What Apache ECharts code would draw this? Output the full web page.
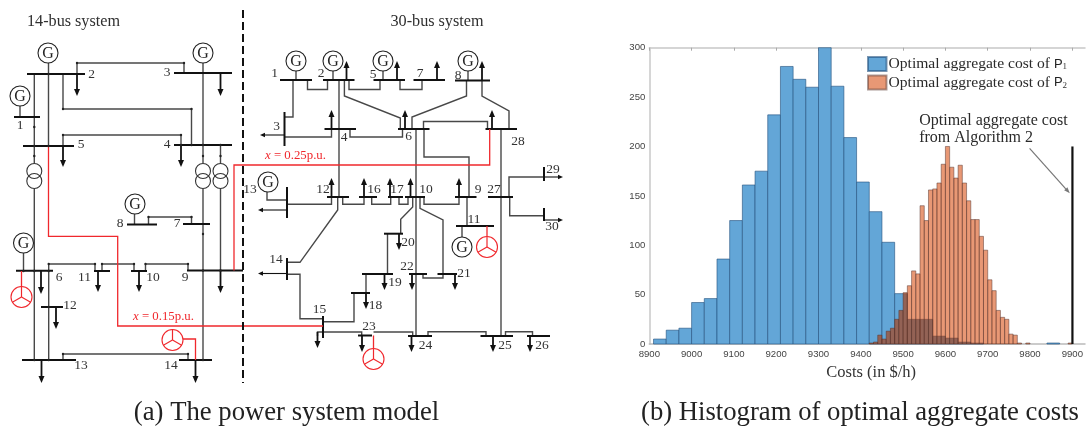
<!DOCTYPE html>
<html><head><meta charset="utf-8">
<style>html,body{margin:0;padding:0;background:#fff}#c{width:1086px;height:428px;filter:blur(0.35px)}</style>
<script src="https://cdn.jsdelivr.net/npm/echarts@6/dist/echarts.min.js"></script>
</head><body><div id="c"></div>
<script>
// ---------- histogram data ----------
const xTicks = [8900,9000,9100,9200,9300,9400,9500,9600,9700,9800,9900];
const yTicks = [0,50,100,150,200,250,300];
const p1Starts = [8910,8940,8970,9000,9030,9060,9090,9120,9150,9180,9210,9240,9270,9300,9330,9360,9390,9420,9450,9480,9510,9540,9570,9600,9630,9660,9840];
const p1Counts = [5,14,16,42,46,86,125,161,175,232,281,268,260,300,261,209,164,134,103,51,25,25,8,6,2,1,1];
const p2Starts = [9420,9430,9440,9450,9460,9470,9480,9490,9500,9510,9520,9530,9540,9550,9560,9570,9580,9590,9600,9610,9620,9630,9640,9650,9660,9670,9680,9690,9700,9710,9720,9730,9740,9750,9760,9770,9790,9890];
const p2Counts = [1,2,9,5,13,16,25,34,52,59,74,71,140,125,156,157,163,182,200,179,168,181,163,145,126,126,109,95,65,54,34,27,25,10,9,1,1,1];
const p1Width = 30, p2Width = 10;
const algorithmCost = [9900, 200];

// ---------- schematic (diagram units) ----------
const busBars = [
 [[27,74],[85,74]],[[174,73],[232,73]],[[14,117],[40,117]],[[23,146],[74,146]],[[174,145],[232,145]],
 [[183,224],[210,224]],[[127,224.5],[157,224.5]],[[16,270.7],[53,270.7]],[[94,271],[110,271]],[[131,271],[147,271]],
 [[187,270.5],[243,270.5]],[[41,307],[63,307]],[[22,360],[76,360]],[[179,360],[212,360]],
 [[280,80],[312,80]],[[323,80],[354.5,80]],[[373.5,80],[405,80]],[[413.5,80],[445,80]],[[455,80.5],[490,80.5]],
 [[284.5,112],[284.5,146]],[[324.5,129],[356,129]],[[398,129],[429.5,129]],[[485.5,129],[517,129]],
 [[327,197],[349,197]],[[359,197],[377,197]],[[388,197],[403,197]],[[405,197],[425,197]],[[455,197],[476.5,197]],[[488,197],[513,197]],
 [[544,167],[544,181]],[[544,208],[544,221]],[[287,187],[287,218]],[[287,258],[287,280]],
 [[456,226],[494,226]],[[384,233.7],[403,233.7]],[[362,274],[393,274]],[[351,293],[370,293]],[[409,274],[427,274]],[[437.5,274],[457,274]],
 [[323,316],[323,338]],[[358,335.5],[372,335.5]],[[408,336],[432,336]],[[480.5,336],[513,336]],[[527,336],[550,336]]
];
const wires = [
 [[48.5,63],[48.5,146]],[[34.3,74],[34.3,163]],[[34.3,189],[34.3,360]],[[20,106],[20,117]],
 [[77,74],[77,63],[184,63],[184,73]],[[63,74],[63,109],[191.5,109],[191.5,145]],[[63,146],[63,135],[181,135],[181,145]],
 [[203,63],[203,163]],[[203,189],[203,360]],[[220.5,145],[220.5,163]],[[220.5,189],[220.5,270]],
 [[134.5,214],[134.5,224]],[[148.5,224],[148.5,217],[191.5,217],[191.5,224]],
 [[23.5,253],[23.5,270]],[[48.7,360],[48.7,264],[95,264],[95,271]],[[102,271],[102,264],[134,264],[134,271]],
 [[145.5,271],[145.5,264],[188,264],[188,270]],[[63,360],[63,354],[188,354],[188,360]],
 [[296,71],[296,80]],[[333,71],[333,80]],[[383,71],[383,80]],[[468,71],[468,80]],
 [[307.5,80],[307.5,89.5],[327.5,89.5],[327.5,80]],[[349,80],[349,89.5],[380,89.5],[380,80]],[[400,80],[400,89.5],[422,89.5],[422,80]],
 [[293,80],[293,117],[284.5,117]],[[284.5,137],[331.5,137],[331.5,129]],[[339,80],[339,197]],[[337.7,197],[337.7,210],[300,262.3],[287,262.3]],
 [[344.4,80],[344.4,96],[400.3,118],[400.3,129]],[[350,129],[350,137],[402.5,137],[402.5,129]],
 [[466.5,80],[466.5,96],[412,117],[412,129]],[[482,80],[482,96],[509,111],[509,129]],
 [[423.5,129],[423.5,121.5],[487.5,121.5],[487.5,129]],[[424,129],[424,157],[469,157],[469,197]],
 [[416,129],[416,336]],[[501,129],[501,336]],
 [[509,197],[509,177],[544,177]],[[509.7,197],[509.7,215.7],[544,215.7]],
 [[267,192],[267,200],[287,200]],[[287,204.3],[331.5,204.3],[331.5,197]],
 [[342.7,197],[342.7,204.3],[364,204.3],[364,197]],[[371.7,197],[371.7,204.3],[390.7,204.3],[390.7,197]],[[399,197],[399,204.3],[408,204.3],[408,197]],
 [[412.7,197],[412.7,207],[400.7,219.3],[400.7,233.7]],[[387.5,233.7],[387.5,274]],[[366,274],[366,293]],
 [[323,321.7],[354,321.7],[354,293]],[[287,274.3],[300,274.3],[300,318.7],[323,318.7]],
 [[323,332],[317.5,332],[317.5,336]],[[323,332],[361.7,332],[361.7,335.5]],[[373.5,332],[412.7,332],[412.7,336]],
 [[428,336],[428,331.7],[486,331.7],[486,336]],[[505.5,336],[505.5,331.7],[532.5,331.7],[532.5,336]],
 [[423,274],[423,278],[443,278],[443,274]],[[420,197],[420,208.3],[443,220],[443,274]],
 [[424,197],[424,204.3],[459,204.3],[459,197]],[[467,197],[467,226]],[[462,226],[462,237]]
];
const redWires = [
 [[48.5,146],[48.5,236.3],[117.7,236.3],[117.7,326],[323,326]],
 [[234,270.5],[234,165],[489.7,165],[489.7,129]],
 [[21.5,271],[21.5,287]],[[183,339],[195.5,339],[195.5,360]],[[373.5,335.5],[373.5,349]],[[487,226],[487,236.5]]
];
const dividerLine = [[[243,10],[243,383]]];
const loads = [
 [77,74,77,96],[220.5,73,220.5,96],[63,146,63,167],[181,145,181,167],[41,271,41,294],[98,271,98,292],[139,271,139,292],[220.5,270,220.5,293],
 [56,307,56,329],[41.5,360,41.5,383],[195.5,360,195.5,383],
 [346.5,80,346.5,61],[397,80,397,61],[437,80,437,61],[482,80,482,61],
 [331.5,129,331.5,110],[405,129,405,110],[492,129,492,110],[331.5,197,331.5,178],[364,197,364,178],[390,197,390,178],[410.5,197,410.5,178],[459,197,459,178],
 [284.5,135,260,135],[287,210,258,210],[287,273.5,258,273.5],[544,177,563,177],[544,220,563,220],
 [399,233.7,399,250],[384.5,274,384.5,290],[366,293,366,309],[412,274,412,290],[455,274,455,290],[317.5,332,317.5,348],[362,335.5,362,352],[411.5,336,411.5,352],[493,336,493,352],[530,336,530,352]
];
const joints = [[48.5,74],[34.3,127],[34.3,146],[48.5,146],[77,63],[184,63],[63,109],[191.5,109],[63,135],[181,135],[181,145],[191.5,145],[203,145],[220.5,145],[34.3,156],[203,156],[220.5,156],[203,234],[148.5,217],[191.5,217],[48.7,264],[95,264],[102,264],[134,264],[145.5,264],[188,264],[34.3,271],[48.7,271],[23.5,271],[203,270.5],[220.5,270.5],[48.7,307],[34.3,360],[48.7,360],[63,354],[188,354],[203,360]];
const generators = [[48,53],[203,53],[20,96],[135,204],[23.5,243],[296,61],[333,61],[383,61],[468,61],[268,182],[462,247]];
const wyes = [[21.5,297],[172.5,340],[373.5,359],[487,247]];
const transformers = [[34.3,171],[34.3,181],[203,171],[203,181],[220.5,171],[220.5,181]];
const busNames = ['2','3','1','5','4','6','11','10','9','12','13','14','8','7',
 '1','2','5','7','8','3','4','6','28','29','27','30','13','12','16','17','10','9','11','20','19','18','22','21','14','15','23','24','25','26'];
const busNameAt = [[91.5,74],[167,72],[20,125],[81,144],[167,144],[59,277],[84.5,277],[153,277],[185,277],[70,305],[81,365],[171,365],[120,223],[177,223],
 [274.5,73],[321,73],[373,74],[420,73],[458,75],[276.5,126],[344,137],[408.5,136],[518,141],[553,169],[494,189],[552,226],[250,189],[323,189],[374,189],[397,189],[426,189],[478,189],[474,219.5],[408,242],[395,282],[375.5,305],[407,266],[464,273],[276,259],[319.5,309],[369,326],[425.5,345],[505,345],[542,345]];
const headings = ['14-bus system','30-bus system'];
const headingAt = [[73.5,22],[437,22]];
const captions = ['(a) The power system model','(b) Histogram of optimal aggregate costs'];
const captionAt = [[286.5,413],[860,413]];
const reactances = ['{i|x} = 0.15p.u.','{i|x} = 0.25p.u.'];
const reactanceAt = [[163.5,316.5],[295.5,156]];
const noteLines = ['Optimal aggregate cost','from Algorithm 2'];
const noteAt = [[9538,226],[9538,208.6]];
const noteArrow = [[9799,198],[9894,152.6]];

const SERIF = '"Liberation Serif","Times New Roman",serif';
const SANS = '"Liberation Sans",Arial,sans-serif';
const RED = '#f0282d';

function lineData(a){return a.map(c=>({coords:c}));}
function wireSeries(a,w,col,dash){return {type:'lines',coordinateSystem:'cartesian2d',xAxisIndex:2,yAxisIndex:1,polyline:true,silent:true,
  data:lineData(a),lineStyle:{color:col,width:w,opacity:1,type:dash||'solid'},z:3};}
function histSeries(name,starts,counts,width,fill,edge,z){
  return {type:'custom',name,xAxisIndex:0,yAxisIndex:0,z,itemStyle:{color:fill,borderColor:edge,borderWidth:1},
    data:starts.map((s,i)=>[s,s+width,counts[i]]),encode:{x:[0,1],y:2},
    renderItem(p,api){const a=api.coord([api.value(0),api.value(2)]),b=api.coord([api.value(1),0]);
      return {type:'rect',shape:{x:a[0],y:a[1],width:b[0]-a[0],height:b[1]-a[1]},style:{fill,stroke:edge,lineWidth:1}};}};
}
function textSeries(texts,at,style){
  return {type:'custom',xAxisIndex:2,yAxisIndex:1,silent:true,z:6,clip:false,data:at.map(a=>a.slice()),
    renderItem(p,api){const c=api.coord([api.value(0),api.value(1)]);
      return {type:'text',x:c[0],y:c[1],style:Object.assign({text:texts[p.dataIndex],textAlign:'center',textVerticalAlign:'middle',fontFamily:SERIF},style)};}};
}
function circleSeries(pts,r,stroke,kind){
  return {type:'custom',xAxisIndex:2,yAxisIndex:1,silent:true,z:5,clip:false,data:pts.map(a=>a.slice()),
    renderItem(p,api){const c=api.coord([api.value(0),api.value(1)]);
      const ch=[{type:'circle',shape:{cx:c[0],cy:c[1],r},style:{fill:kind==='t'?'none':'#fff',stroke,lineWidth:1.1}}];
      if(kind==='g')ch.push({type:'text',x:c[0],y:c[1]+.5,style:{text:'G',fontFamily:SERIF,fontSize:16,fill:'#222',textAlign:'center',textVerticalAlign:'middle'}});
      if(kind==='w'){const k=r;[[0,-1],[.87,.5],[-.87,.5]].forEach(d=>ch.push({type:'line',shape:{x1:c[0],y1:c[1],x2:c[0]+d[0]*k,y2:c[1]+d[1]*k},style:{stroke,lineWidth:1.2}}));}
      return {type:'group',children:ch};}};
}
const arrowSeries={type:'custom',xAxisIndex:2,yAxisIndex:1,silent:true,z:4,clip:false,data:loads.map(a=>a.slice()),
  renderItem(p,api){const s=api.coord([api.value(0),api.value(1)]),e=api.coord([api.value(2),api.value(3)]);
    const L=Math.hypot(e[0]-s[0],e[1]-s[1]),ux=(e[0]-s[0])/L,uy=(e[1]-s[1])/L,thick=ux===0?1.8:1.1,hl=ux===0?7:5,hw=ux===0?3:2.3;
    const bx=e[0]-ux*hl,by=e[1]-uy*hl;
    return {type:'group',children:[
      {type:'line',shape:{x1:s[0],y1:s[1],x2:bx,y2:by},style:{stroke:'#111',lineWidth:thick}},
      {type:'polygon',shape:{points:[[e[0],e[1]],[bx-uy*hw,by+ux*hw],[bx+uy*hw,by-ux*hw]]},style:{fill:'#111'}}]};}};
const jointSeries={type:'custom',xAxisIndex:2,yAxisIndex:1,silent:true,z:4,data:joints.map(a=>a.slice()),
  renderItem(p,api){const c=api.coord([api.value(0),api.value(1)]);return {type:'circle',shape:{cx:c[0],cy:c[1],r:1.2},style:{fill:'#222'}};}};
const overlapSeries={type:'custom',xAxisIndex:0,yAxisIndex:0,z:4,silent:true,
  data:p2Starts.map((s,i)=>{const k=p1Starts.findIndex(b=>s>=b&&s<b+p1Width);return [s,s+p2Width,k<0?0:Math.min(p1Counts[k],p2Counts[i])];}),
  renderItem(p,api){const a=api.coord([api.value(0),api.value(2)]),b=api.coord([api.value(1),0]);
    return {type:'rect',shape:{x:a[0],y:a[1],width:b[0]-a[0],height:b[1]-a[1]},style:{fill:'rgba(60,30,25,0.2)'}};}};
const annotation={type:'custom',xAxisIndex:0,yAxisIndex:0,silent:true,z:6,clip:false,data:[noteArrow[0].concat(noteArrow[1])],
  renderItem(p,api){const s=api.coord([api.value(0),api.value(1)]),e=api.coord([api.value(2),api.value(3)]);
    const L=Math.hypot(e[0]-s[0],e[1]-s[1]),ux=(e[0]-s[0])/L,uy=(e[1]-s[1])/L,bx=e[0]-ux*6,by=e[1]-uy*6;
    return {type:'group',children:[{type:'line',shape:{x1:s[0],y1:s[1],x2:bx,y2:by},style:{stroke:'#777',lineWidth:1.2}},
      {type:'polygon',shape:{points:[[e[0],e[1]],[bx-uy*2.2,by+ux*2.2],[bx+uy*2.2,by-ux*2.2]]},style:{fill:'#777'}}]};}};
const noteSeries={type:'custom',xAxisIndex:0,yAxisIndex:0,silent:true,z:6,clip:false,data:noteAt.map(a=>a.slice()),
  renderItem(p,api){const c=api.coord([api.value(0),api.value(1)]);
    return {type:'text',x:c[0],y:c[1],style:{text:noteLines[p.dataIndex],fontFamily:SERIF,fontSize:16,fill:'#2a2a2a',textAlign:'left',textVerticalAlign:'middle',letterSpacing:.6}};}};
const algBar={type:'custom',xAxisIndex:0,yAxisIndex:0,z:6,silent:true,data:[algorithmCost],
  renderItem(p,api){const t=api.coord([api.value(0),api.value(1)]),b=api.coord([api.value(0),0]);
    return {type:'rect',shape:{x:t[0]-1,y:t[1],width:2.2,height:b[1]-t[1]},style:{fill:'#111'}};}};

const p1Name='Optimal aggregate cost of P1', p2Name='Optimal aggregate cost of P2';
const plain=v=>String(v);
const option={animation:false,backgroundColor:'#fff',
 grid:[{left:649.3,top:47.7,width:436.7,height:296.3},{left:0,top:0,width:600,height:428}],
 xAxis:[
  {type:'value',gridIndex:0,min:8900,max:9930,position:'bottom',axisLine:{onZero:false,lineStyle:{color:'#bbb',width:1.5}},
   axisTick:{show:false,customValues:xTicks},splitLine:{show:false},
   axisLabel:{customValues:xTicks,formatter:plain,color:'#444',fontFamily:SANS,fontSize:9.6,margin:5},
   name:'Costs (in $/h)',nameLocation:'middle',nameGap:18,
   nameTextStyle:{fontFamily:SERIF,fontSize:16.5,color:'#333',padding:[0,0,0,8]}},
  {type:'value',gridIndex:0,min:8900,max:9930,position:'top',axisLine:{onZero:false,lineStyle:{color:'#c8c8c8',width:1.5}},
   axisTick:{inside:true,length:3,customValues:xTicks,lineStyle:{color:'#aaa'}},axisLabel:{show:false},splitLine:{show:false}},
  {type:'value',gridIndex:1,min:0,max:600,show:false}
 ],
 yAxis:[
  {type:'value',gridIndex:0,min:0,max:300,interval:50,axisLine:{show:true,onZero:false,lineStyle:{color:'#c8c8c8',width:1.5}},
   axisTick:{show:false},splitLine:{show:false},axisLabel:{color:'#444',fontFamily:SANS,fontSize:9.6,margin:4,customValues:yTicks,formatter:plain}},
  {type:'value',gridIndex:1,min:0,max:428,inverse:true,show:false}
 ],
 legend:{show:true,left:867,top:56,orient:'vertical',itemWidth:18.5,itemHeight:14,itemGap:2.5,icon:'rect',selectedMode:false,
  data:[p1Name,p2Name],padding:0,
  formatter:n=>'{t|Optimal aggregate cost of }{p|P}{s|'+n.slice(-1)+'}',
  textStyle:{padding:[0,0,0,-3],rich:{t:{fontFamily:SERIF,fontSize:15.6,color:'#2a2a2a'},p:{fontFamily:SANS,fontSize:13,color:'#222'},s:{fontFamily:SERIF,fontSize:9,color:'#333',padding:[6,0,0,0]}}}},
 series:[
  histSeries(p1Name,p1Starts,p1Counts,p1Width,'#63a6d7','rgba(35,80,125,0.6)',2),
  histSeries(p2Name,p2Starts,p2Counts,p2Width,'rgba(217,83,25,0.6)','rgba(90,55,50,0.5)',3),
  overlapSeries,algBar,annotation,noteSeries,
  wireSeries(wires,1.4,'#484848'),
  wireSeries(busBars,2,'#111'),
  wireSeries(redWires,1.3,RED),
  wireSeries(dividerLine,2,'#111',[8,4]),
  arrowSeries,jointSeries,
  circleSeries(generators,10,'#222','g'),
  circleSeries(wyes,10.5,RED,'w'),
  circleSeries(transformers,7.5,'#333','t'),
  textSeries(busNames,busNameAt,{fontSize:13.5,fill:'#333'}),
  textSeries(headings,headingAt,{fontSize:16.2,fill:'#2f2f2f'}),
  textSeries(captions,captionAt,{fontSize:26.7,fill:'#222'}),
  textSeries(reactances,reactanceAt,{fontSize:12.8,fill:RED,rich:{i:{fontStyle:'italic',fontFamily:SERIF,fontSize:12.8,fill:RED}}})
 ]};
echarts.init(document.getElementById('c'),null,{renderer:'canvas'}).setOption(option);
</script></body></html>
